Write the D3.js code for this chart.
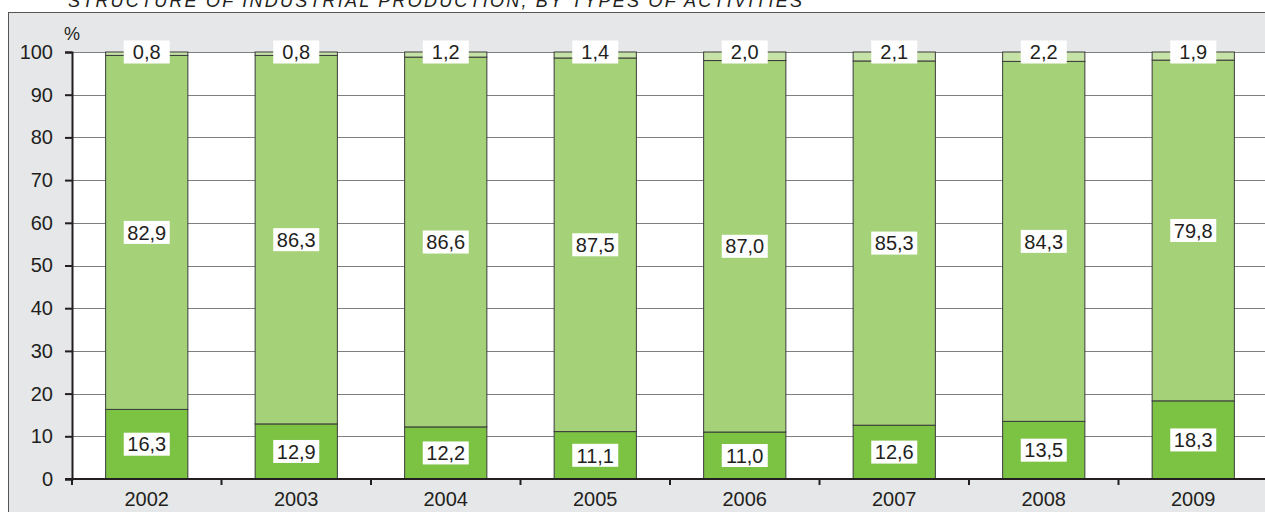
<!DOCTYPE html>
<html>
<head>
<meta charset="utf-8">
<script src="https://cdn.jsdelivr.net/npm/d3@7"></script>
<style>
  body { margin: 0; background: #fff; }
  svg { display: block; font-family: "Liberation Sans", Arial, sans-serif; }
</style>
</head>
<body>
<div id="chart"></div>
<script>
"use strict";

var years = ["2002", "2003", "2004", "2005", "2006", "2007", "2008", "2009"];
var lower = [16.3, 12.9, 12.2, 11.1, 11.0, 12.6, 13.5, 18.3];
var middle = [82.9, 86.3, 86.6, 87.5, 87.0, 85.3, 84.3, 79.8];
var upper = [0.8, 0.8, 1.2, 1.4, 2.0, 2.1, 2.2, 1.9];
var yTicks = [0, 10, 20, 30, 40, 50, 60, 70, 80, 90, 100];
var title = "STRUCTURE OF INDUSTRIAL PRODUCTION, BY TYPES OF ACTIVITIES";

var width = 1265, height = 512;
var plot = { left: 72, right: 1268, top: 52, bottom: 479 };
var colors = ["#7cc243", "#a5d279", "#c6e2a6"];

var svg = d3.select("#chart").append("svg")
    .attr("width", width)
    .attr("height", height);

// outer grey frame
svg.append("rect")
    .attr("x", 8.5).attr("y", 12.5)
    .attr("width", width).attr("height", height)
    .attr("fill", "#e6e7e9")
    .attr("stroke", "#555").attr("stroke-width", 1);

svg.append("text")
    .attr("x", 68).attr("y", 7)
    .attr("font-size", 18)
    .attr("font-style", "italic")
    .attr("fill", "#231f20")
    .attr("textLength", 734)
    .attr("lengthAdjust", "spacing")
    .text(title);

var x = d3.scaleBand()
    .domain(years)
    .range([plot.left, plot.right])
    .paddingInner(0.45)
    .paddingOuter(0.225);

var y = d3.scaleLinear()
    .domain([0, 100])
    .range([plot.bottom, plot.top]);

// plot background
svg.append("rect")
    .attr("x", plot.left).attr("y", plot.top)
    .attr("width", plot.right - plot.left)
    .attr("height", plot.bottom - plot.top)
    .attr("fill", "#fff");

// gridlines
svg.append("g")
    .selectAll("line")
    .data(yTicks.slice(1))
    .enter().append("line")
    .attr("x1", plot.left).attr("x2", plot.right)
    .attr("y1", function(d) { return Math.round(y(d)) + 0.5; })
    .attr("y2", function(d) { return Math.round(y(d)) + 0.5; })
    .attr("stroke", "#7f7f7f")
    .attr("stroke-width", 1);

// stacked bars
var rows = years.map(function(yr, i) {
    return { year: yr, lower: lower[i], middle: middle[i], upper: upper[i] };
});
var stack = d3.stack().keys(["lower", "middle", "upper"]);
var series = stack(rows);

var layer = svg.append("g").selectAll("g")
    .data(series)
    .enter().append("g")
    .attr("fill", function(d, i) { return colors[i]; });

layer.selectAll("rect")
    .data(function(d) { return d; })
    .enter().append("rect")
    .attr("x", function(d) { return x(d.data.year); })
    .attr("y", function(d) { return y(d[1]); })
    .attr("width", x.bandwidth())
    .attr("height", function(d) { return y(d[0]) - y(d[1]); })
    .attr("stroke", "#3a3a3a")
    .attr("stroke-width", 1);

// value labels
var labels = [];
series.forEach(function(s, k) {
    s.forEach(function(d) {
        var v = d.data[s.key];
        var pos = k === 2 ? d[1] : (d[0] + d[1]) / 2;
        labels.push({ year: d.data.year, value: v, pos: pos });
    });
});

var lab = svg.append("g").selectAll("g")
    .data(labels)
    .enter().append("g")
    .attr("transform", function(d) {
        return "translate(" + (x(d.year) + x.bandwidth() / 2) + "," + y(d.pos) + ")";
    });

lab.append("rect")
    .attr("x", -23).attr("y", -11.5)
    .attr("width", 46).attr("height", 23)
    .attr("fill", "#fff");

lab.append("text")
    .attr("text-anchor", "middle")
    .attr("dy", "0.36em")
    .attr("font-size", 20)
    .attr("fill", "#231f20")
    .text(function(d) { return d3.format(".1f")(d.value).replace(".", ","); });

// y axis
var yAxis = svg.append("g")
    .attr("transform", "translate(" + plot.left + ",0)")
    .call(d3.axisLeft(y).tickValues(yTicks).tickSize(7).tickPadding(12));
yAxis.select(".domain").attr("stroke", "#231f20").attr("stroke-width", 2);
yAxis.selectAll(".tick line").attr("stroke", "#231f20").attr("stroke-width", 2);
yAxis.selectAll("text")
    .attr("font-size", 20)
    .attr("font-family", "Liberation Sans, Arial, sans-serif")
    .attr("fill", "#231f20");

// x axis with ticks at category boundaries
var xg = svg.append("g")
    .attr("transform", "translate(0," + plot.bottom + ")");
xg.append("line")
    .attr("x1", plot.left - 7).attr("x2", plot.right)
    .attr("stroke", "#231f20").attr("stroke-width", 2);
xg.selectAll(".bt")
    .data(d3.range(years.length + 1))
    .enter().append("line")
    .attr("class", "bt")
    .attr("x1", function(i) { return plot.left + i * (plot.right - plot.left) / years.length; })
    .attr("x2", function(i) { return plot.left + i * (plot.right - plot.left) / years.length; })
    .attr("y1", 0).attr("y2", 6)
    .attr("stroke", "#231f20").attr("stroke-width", 2);
xg.selectAll(".yl")
    .data(years)
    .enter().append("text")
    .attr("class", "yl")
    .attr("x", function(d) { return x(d) + x.bandwidth() / 2; })
    .attr("y", 27)
    .attr("text-anchor", "middle")
    .attr("font-size", 20)
    .attr("fill", "#231f20")
    .text(function(d) { return d; });

svg.append("text")
    .attr("x", 64).attr("y", 40)
    .attr("font-size", 18)
    .attr("fill", "#231f20")
    .text("%");
</script>
</body>
</html>
